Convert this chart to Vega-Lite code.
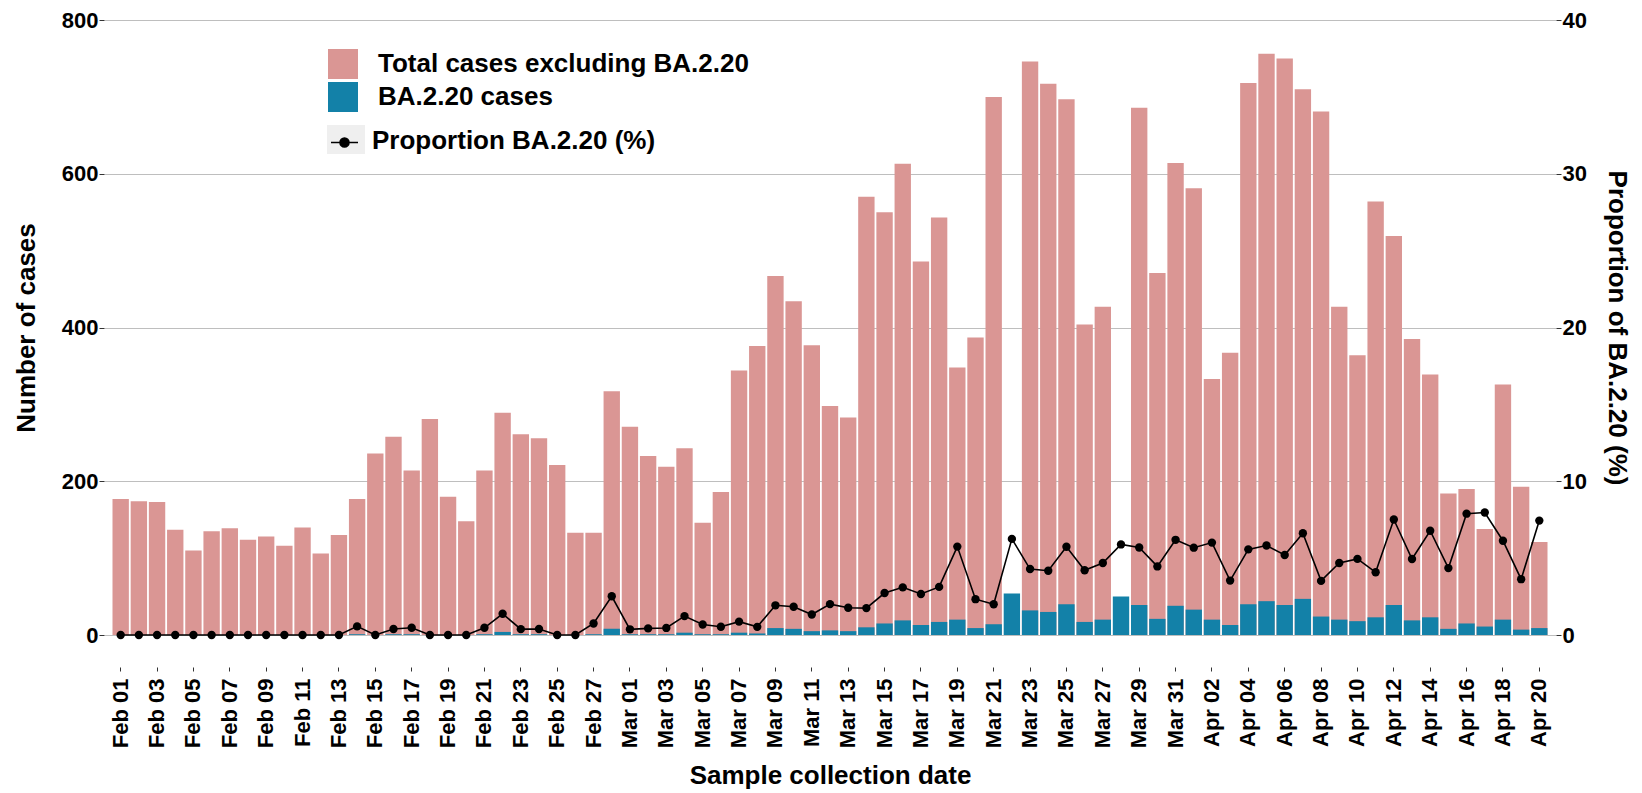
{
  "$schema": "https://vega.github.io/schema/vega-lite/v6.json",
  "width": 1452,
  "height": 615,
  "autosize": {"type": "none"},
  "padding": {"left": 104, "top": 20, "right": 86, "bottom": 158},
  "background": "white",
  "config": {
    "view": {"stroke": null},
    "font": "Liberation Sans",
    "axis": {"labelFont": "Liberation Sans", "titleFont": "Liberation Sans"},
    "legend": {"labelFont": "Liberation Sans"}
  },
  "data": {
    "values": [
      {"d": "Feb 01", "total": 177, "ba": 0, "prop": 0},
      {"d": "Feb 02", "total": 174, "ba": 0, "prop": 0},
      {"d": "Feb 03", "total": 173, "ba": 0, "prop": 0},
      {"d": "Feb 04", "total": 137, "ba": 0, "prop": 0},
      {"d": "Feb 05", "total": 110, "ba": 0, "prop": 0},
      {"d": "Feb 06", "total": 135, "ba": 0, "prop": 0},
      {"d": "Feb 07", "total": 139, "ba": 0, "prop": 0},
      {"d": "Feb 08", "total": 124, "ba": 0, "prop": 0},
      {"d": "Feb 09", "total": 128, "ba": 0, "prop": 0},
      {"d": "Feb 10", "total": 116, "ba": 0, "prop": 0},
      {"d": "Feb 11", "total": 140, "ba": 0, "prop": 0},
      {"d": "Feb 12", "total": 106, "ba": 0, "prop": 0},
      {"d": "Feb 13", "total": 130, "ba": 0, "prop": 0},
      {"d": "Feb 14", "total": 177, "ba": 1, "prop": 0.56},
      {"d": "Feb 15", "total": 236, "ba": 0, "prop": 0},
      {"d": "Feb 16", "total": 258, "ba": 1, "prop": 0.39},
      {"d": "Feb 17", "total": 214, "ba": 1, "prop": 0.47},
      {"d": "Feb 18", "total": 281, "ba": 0, "prop": 0},
      {"d": "Feb 19", "total": 180, "ba": 0, "prop": 0},
      {"d": "Feb 20", "total": 148, "ba": 0, "prop": 0},
      {"d": "Feb 21", "total": 214, "ba": 1, "prop": 0.47},
      {"d": "Feb 22", "total": 289, "ba": 4, "prop": 1.38},
      {"d": "Feb 23", "total": 261, "ba": 1, "prop": 0.38},
      {"d": "Feb 24", "total": 256, "ba": 1, "prop": 0.39},
      {"d": "Feb 25", "total": 221, "ba": 0, "prop": 0},
      {"d": "Feb 26", "total": 133, "ba": 0, "prop": 0},
      {"d": "Feb 27", "total": 133, "ba": 1, "prop": 0.75},
      {"d": "Feb 28", "total": 317, "ba": 8, "prop": 2.52},
      {"d": "Mar 01", "total": 271, "ba": 1, "prop": 0.37},
      {"d": "Mar 02", "total": 233, "ba": 1, "prop": 0.43},
      {"d": "Mar 03", "total": 219, "ba": 1, "prop": 0.46},
      {"d": "Mar 04", "total": 243, "ba": 3, "prop": 1.23},
      {"d": "Mar 05", "total": 146, "ba": 1, "prop": 0.68},
      {"d": "Mar 06", "total": 186, "ba": 1, "prop": 0.54},
      {"d": "Mar 07", "total": 344, "ba": 3, "prop": 0.87},
      {"d": "Mar 08", "total": 376, "ba": 2, "prop": 0.53},
      {"d": "Mar 09", "total": 467, "ba": 9, "prop": 1.93},
      {"d": "Mar 10", "total": 434, "ba": 8, "prop": 1.84},
      {"d": "Mar 11", "total": 377, "ba": 5, "prop": 1.33},
      {"d": "Mar 12", "total": 298, "ba": 6, "prop": 2.01},
      {"d": "Mar 13", "total": 283, "ba": 5, "prop": 1.77},
      {"d": "Mar 14", "total": 570, "ba": 10, "prop": 1.75},
      {"d": "Mar 15", "total": 550, "ba": 15, "prop": 2.73},
      {"d": "Mar 16", "total": 613, "ba": 19, "prop": 3.1},
      {"d": "Mar 17", "total": 486, "ba": 13, "prop": 2.67},
      {"d": "Mar 18", "total": 543, "ba": 17, "prop": 3.13},
      {"d": "Mar 19", "total": 348, "ba": 20, "prop": 5.75},
      {"d": "Mar 20", "total": 387, "ba": 9, "prop": 2.33},
      {"d": "Mar 21", "total": 700, "ba": 14, "prop": 2.0},
      {"d": "Mar 22", "total": 864, "ba": 54, "prop": 6.25},
      {"d": "Mar 23", "total": 746, "ba": 32, "prop": 4.29},
      {"d": "Mar 24", "total": 717, "ba": 30, "prop": 4.18},
      {"d": "Mar 25", "total": 697, "ba": 40, "prop": 5.74},
      {"d": "Mar 26", "total": 404, "ba": 17, "prop": 4.21},
      {"d": "Mar 27", "total": 427, "ba": 20, "prop": 4.68},
      {"d": "Mar 28", "total": 849, "ba": 50, "prop": 5.89},
      {"d": "Mar 29", "total": 686, "ba": 39, "prop": 5.69},
      {"d": "Mar 30", "total": 471, "ba": 21, "prop": 4.46},
      {"d": "Mar 31", "total": 614, "ba": 38, "prop": 6.19},
      {"d": "Apr 01", "total": 581, "ba": 33, "prop": 5.68},
      {"d": "Apr 02", "total": 333, "ba": 20, "prop": 6.01},
      {"d": "Apr 03", "total": 367, "ba": 13, "prop": 3.54},
      {"d": "Apr 04", "total": 718, "ba": 40, "prop": 5.57},
      {"d": "Apr 05", "total": 756, "ba": 44, "prop": 5.82},
      {"d": "Apr 06", "total": 750, "ba": 39, "prop": 5.2},
      {"d": "Apr 07", "total": 710, "ba": 47, "prop": 6.62},
      {"d": "Apr 08", "total": 681, "ba": 24, "prop": 3.52},
      {"d": "Apr 09", "total": 427, "ba": 20, "prop": 4.68},
      {"d": "Apr 10", "total": 364, "ba": 18, "prop": 4.95},
      {"d": "Apr 11", "total": 564, "ba": 23, "prop": 4.08},
      {"d": "Apr 12", "total": 519, "ba": 39, "prop": 7.51},
      {"d": "Apr 13", "total": 385, "ba": 19, "prop": 4.94},
      {"d": "Apr 14", "total": 339, "ba": 23, "prop": 6.78},
      {"d": "Apr 15", "total": 184, "ba": 8, "prop": 4.35},
      {"d": "Apr 16", "total": 190, "ba": 15, "prop": 7.89},
      {"d": "Apr 17", "total": 138, "ba": 11, "prop": 7.97},
      {"d": "Apr 18", "total": 326, "ba": 20, "prop": 6.13},
      {"d": "Apr 19", "total": 193, "ba": 7, "prop": 3.63},
      {"d": "Apr 20", "total": 121, "ba": 9, "prop": 7.44}
    ]
  },
  "encoding": {
    "x": {
      "field": "d",
      "type": "ordinal",
      "sort": null,
      "scale": {
        "domain": ["Feb 01","Feb 02","Feb 03","Feb 04","Feb 05","Feb 06","Feb 07","Feb 08","Feb 09","Feb 10","Feb 11","Feb 12","Feb 13","Feb 14","Feb 15","Feb 16","Feb 17","Feb 18","Feb 19","Feb 20","Feb 21","Feb 22","Feb 23","Feb 24","Feb 25","Feb 26","Feb 27","Feb 28","Mar 01","Mar 02","Mar 03","Mar 04","Mar 05","Mar 06","Mar 07","Mar 08","Mar 09","Mar 10","Mar 11","Mar 12","Mar 13","Mar 14","Mar 15","Mar 16","Mar 17","Mar 18","Mar 19","Mar 20","Mar 21","Mar 22","Mar 23","Mar 24","Mar 25","Mar 26","Mar 27","Mar 28","Mar 29","Mar 30","Mar 31","Apr 01","Apr 02","Apr 03","Apr 04","Apr 05","Apr 06","Apr 07","Apr 08","Apr 09","Apr 10","Apr 11","Apr 12","Apr 13","Apr 14","Apr 15","Apr 16","Apr 17","Apr 18","Apr 19","Apr 20"],
        "paddingInner": 0.1,
        "paddingOuter": 0.467
      },
      "axis": {
        "values": ["Feb 01","Feb 03","Feb 05","Feb 07","Feb 09","Feb 11","Feb 13","Feb 15","Feb 17","Feb 19","Feb 21","Feb 23","Feb 25","Feb 27","Mar 01","Mar 03","Mar 05","Mar 07","Mar 09","Mar 11","Mar 13","Mar 15","Mar 17","Mar 19","Mar 21","Mar 23","Mar 25","Mar 27","Mar 29","Mar 31","Apr 02","Apr 04","Apr 06","Apr 08","Apr 10","Apr 12","Apr 14","Apr 16","Apr 18","Apr 20"],
        "title": "Sample collection date",
        "labelAngle": -90,
        "labelFontSize": 22,
        "labelFontWeight": "bold",
        "labelColor": "black",
        "labelPadding": 7,
        "labelOverlap": false,
        "tickSize": 4,
        "tickColor": "#333333",
        "domain": false,
        "grid": false,
        "offset": 32,
        "titleFontSize": 26,
        "titleFontWeight": "bold",
        "titleColor": "black",
        "titlePadding": 15
      }
    }
  },
  "layer": [
    {
      "layer": [
        {
          "transform": [{"filter": "datum.total <= 800"}],
          "mark": {"type": "bar"},
          "encoding": {
            "y": {
              "field": "total",
              "type": "quantitative",
              "scale": {"domain": [0, 800], "nice": false},
              "axis": {
                "values": [0, 200, 400, 600, 800],
                "title": "Number of cases",
                "grid": true,
                "gridColor": "#BEBEBE",
                "gridWidth": 1.2,
                "domain": false,
                "tickSize": 5,
                "tickColor": "#333333",
                "labelPadding": 1,
                "labelFontSize": 22,
                "labelFontWeight": "bold",
                "labelColor": "black",
                "titleFontSize": 26,
                "titleFontWeight": "bold",
                "titleColor": "black",
                "titlePadding": 22
              }
            },
            "fill": {
              "datum": "Total cases excluding BA.2.20",
              "scale": {
                "domain": ["Total cases excluding BA.2.20", "BA.2.20 cases"],
                "range": ["#DA9694", "#1381A8"]
              },
              "legend": {
                "orient": "none",
                "legendX": 224,
                "legendY": 29,
                "title": null,
                "symbolType": "square",
                "symbolSize": 900,
                "symbolStrokeWidth": 0,
                "symbolOpacity": 1,
                "labelFontSize": 26,
                "labelFontWeight": "bold",
                "labelColor": "black",
                "labelOffset": 20,
                "labelLimit": 700,
                "rowPadding": 3,
                "padding": 0,
                "zindex": 1
              }
            }
          }
        },
        {
          "mark": {"type": "bar"},
          "encoding": {
            "y": {"field": "ba", "type": "quantitative"},
            "fill": {"datum": "BA.2.20 cases"}
          }
        }
      ]
    },
    {
      "layer": [
        {
          "mark": {"type": "line", "color": "black", "strokeWidth": 1.6},
          "encoding": {
            "x": {"field": "d", "type": "ordinal", "sort": null, "bandPosition": 0.5},
            "y": {
              "field": "prop",
              "type": "quantitative",
              "scale": {"domain": [0, 40], "nice": false},
              "axis": {
                "orient": "right",
                "values": [0, 10, 20, 30, 40],
                "title": "Proportion of BA.2.20 (%)",
                "grid": false,
                "domain": false,
                "tickSize": 5,
                "tickColor": "#333333",
                "labelPadding": 1,
                "labelFontSize": 22,
                "labelFontWeight": "bold",
                "labelColor": "black",
                "titleFontSize": 26,
                "titleFontWeight": "bold",
                "titleColor": "black",
                "titlePadding": 17
              }
            },
            "stroke": {
              "datum": "symbolkey",
              "scale": {"range": ["black"]},
              "legend": {
                "orient": "none",
                "legendX": 223,
                "legendY": 105,
                "title": null,
                "labelExpr": "''",
                "labelOffset": 0,
                "labelFontSize": 1,
                "symbolType": "M-1,0H1M0.333,0A0.333,0.333,0,1,1,-0.333,0A0.333,0.333,0,1,1,0.333,0Z",
                "symbolSize": 729,
                "fillColor": "#EFEFEF",
                "padding": 3,
                "zindex": 1,
                "encode": {
                  "symbols": {
                    "update": {
                      "shape": {"value": "M-1,0H1M0.333,0A0.333,0.333,0,1,1,-0.333,0A0.333,0.333,0,1,1,0.333,0Z"},
                      "size": {"value": 729},
                      "fill": {"value": "black"},
                      "stroke": {"value": "black"},
                      "strokeWidth": {"value": 1.6},
                      "opacity": {"value": 1}
                    }
                  }
                }
              }
            }
          }
        },
        {
          "mark": {"type": "point", "filled": true, "color": "black", "size": 70, "opacity": 1},
          "encoding": {
            "x": {"field": "d", "type": "ordinal", "sort": null, "bandPosition": 0.5},
            "y": {"field": "prop", "type": "quantitative"},
            "shape": {
              "datum": "Proportion BA.2.20 (%)",
              "scale": {"range": ["circle"]},
              "legend": {
                "orient": "none",
                "legendX": 242,
                "legendY": 108,
                "title": null,
                "symbolSize": 1,
                "symbolOpacity": 0,
                "symbolFillColor": "transparent",
                "symbolStrokeColor": "transparent",
                "labelOffset": 0,
                "labelFontSize": 26,
                "labelFontWeight": "bold",
                "labelColor": "black",
                "labelLimit": 700,
                "padding": 0,
                "zindex": 1,
                "encode": {
                  "symbols": {
                    "update": {
                      "opacity": {"value": 0},
                      "fillOpacity": {"value": 0},
                      "strokeOpacity": {"value": 0},
                      "size": {"value": 1}
                    }
                  }
                }
              }
            }
          }
        }
      ]
    }
  ],
  "resolve": {"scale": {"y": "independent"}}
}
